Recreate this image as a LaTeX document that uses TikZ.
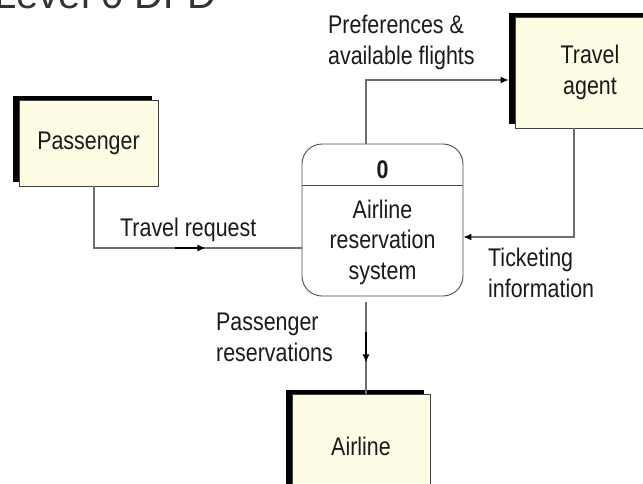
\documentclass[tikz,border=0pt]{standalone}
\usepackage{fontspec}
\setmainfont[FakeStretch=0.84]{Liberation Sans}
\newfontfamily\titlefont{Liberation Sans}
\usetikzlibrary{shadows,arrows.meta,decorations.markings}
\definecolor{cream}{HTML}{FFFCE6}
\definecolor{linegray}{HTML}{6E6E6E}
\definecolor{txt}{HTML}{1A1A1A}
\begin{document}
\begin{tikzpicture}[x=1pt,y=-1pt,
  font=\fontsize{25.5}{30.5}\selectfont, text=txt,
  entity/.style={draw=black!75, line width=0.9pt, fill=cream,
    general shadow={fill=black, shadow xshift=-6pt, shadow yshift=4pt},
    inner sep=0pt, align=center},
  process/.style={draw=black!70, line width=0.9pt, rounded corners=20pt, fill=white},
  flow/.style={draw=linegray, line width=1.2pt},
  tip/.style={-{Latex[length=8pt,width=7pt,color=black]}},
  lbl/.style={anchor=north west, inner sep=0pt, align=left},
  midarrow/.style={postaction=decorate, decoration={markings,
    mark=at position #1 with {\draw[black,line width=1.2pt,-{Latex[length=8pt,width=7pt]}] (-30pt,0pt) -- (0pt,0pt);}}}
]
\useasboundingbox (0,0) rectangle (643,483);
\clip (0,0) rectangle (643,483);

% title
\node[anchor=base east, inner sep=0pt, font=\titlefont\fontsize{40}{48}\selectfont, text=black!80] (title) at (217,8) {Level 0 DFD};

% entities
\node[entity, minimum width=139pt, minimum height=86pt] (pass) at (88.5,143) {Passenger};
\node[entity, minimum width=150pt, minimum height=111pt] (agent) at (590,72.5) {Travel\\agent};
\node[entity, minimum width=138pt, minimum height=104pt] (airline) at (361,446) {Airline};

% process
\node[process, minimum width=161pt, minimum height=152pt] (proc) at (382.5,220) {};
\node[inner sep=0pt] (pid) at (382.5,170) {\bfseries 0};
\coordinate (divl) at (302,185);
\coordinate (divr) at (463,185);
\draw[draw=black!70, line width=0.9pt] (divl) -- (divr);
\node[align=center, inner sep=0pt] (ptext) at (382.5,242) {Airline\\reservation\\system};

% flows
\draw[flow, midarrow=173pt] ([xshift=5.5pt]pass.south) |- ([yshift=-28pt]proc.west);
\draw[flow, tip, shorten >=6pt] ([xshift=-16.5pt]proc.north) |- ([yshift=-7.5pt]agent.west);
\draw[flow, tip] ([xshift=-16pt]agent.south) |- ([yshift=-17pt]proc.east);
\draw[flow, midarrow=60pt] ([xshift=-16.5pt,yshift=-6pt]proc.south) -- ([xshift=5pt]airline.north);

% labels
\node[lbl] (lpref) at (328,15) {Preferences \&\\available flights};
\node[lbl] (ltr) at (120,218) {Travel request};
\node[lbl] (ltick) at (488,248) {Ticketing\\information};
\node[lbl] (lres) at (216,313) {Passenger\\reservations};
\end{tikzpicture}
\end{document}
